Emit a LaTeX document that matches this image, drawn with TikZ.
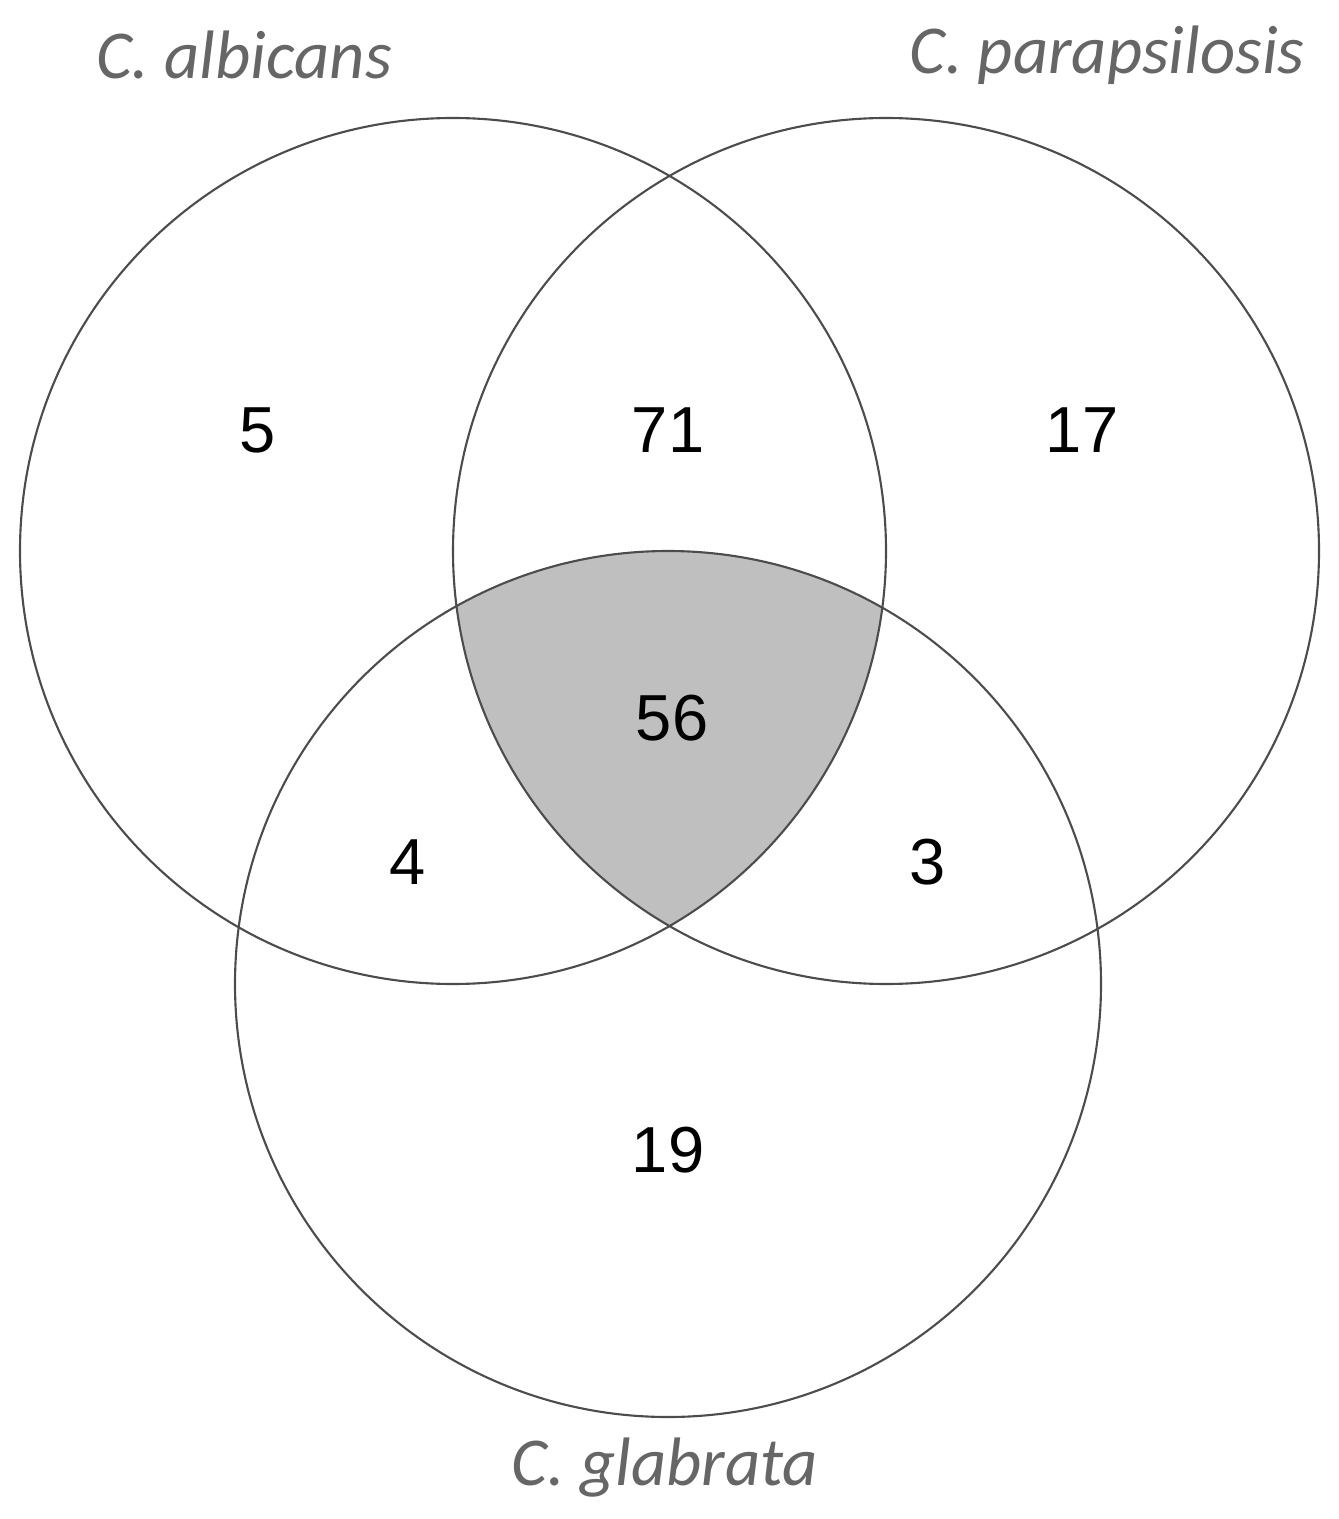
\documentclass[tikz,border=0pt]{standalone}
\usepackage{fontspec}
\setmainfont{Liberation Sans}
\newfontfamily\labfont{Carlito}
\begin{document}
\begin{tikzpicture}[x=0.01cm,y=-0.01cm,
  ring/.style={draw=black!70,line width=0.6pt},
  num/.style={font=\fontsize{18.5}{20}\selectfont},
  lab/.style={font=\labfont\itshape\fontsize{19.5}{22}\selectfont,text=black!60}]
\useasboundingbox (0,0) rectangle (1338,1519);
\coordinate (ca) at (453,551);
\coordinate (cb) at (886,551);
\coordinate (cc) at (668,984);
\begin{scope}
  \clip (ca) circle (433);
  \clip (cb) circle (433);
  \fill[black!25] (cc) circle (433);
\end{scope}
\draw[ring] (ca) circle (433);
\draw[ring] (cb) circle (433);
\draw[ring] (cc) circle (433);
\node[lab] (la) at (244,55) {C. albicans};
\node[lab] (lb) at (1107,55) {C. parapsilosis};
\node[lab] (lc) at (665,1468) {C. glabrata};
\node[num] (n5) at (258,430) {5};
\node[num] (n71) at (668,430) {71};
\node[num] (n17) at (1082,430) {17};
\node[num] (n56) at (672,718) {56};
\node[num] (n4) at (408,862) {4};
\node[num] (n3) at (928,862) {3};
\node[num] (n19) at (668,1150) {19};
\end{tikzpicture}
\end{document}
